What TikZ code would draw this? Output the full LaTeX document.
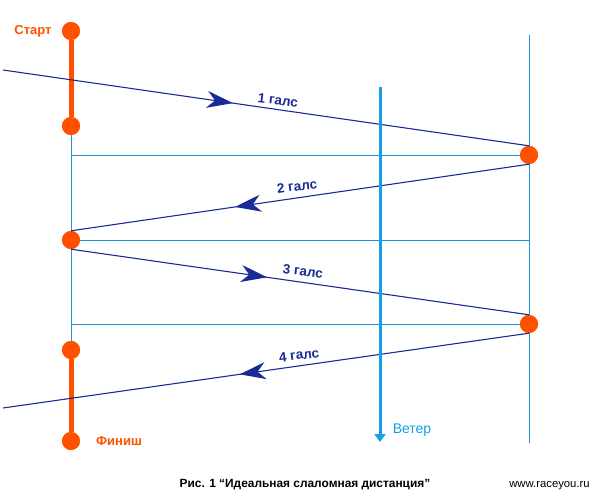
\documentclass[tikz,border=0pt]{standalone}
\usepackage{fontspec}
\setmainfont{Liberation Sans}
\usetikzlibrary{arrows.meta,decorations.markings}
\definecolor{org}{HTML}{FF5000}
\definecolor{navy}{HTML}{1A2A96}
\definecolor{guideblue}{HTML}{2090D8}
\definecolor{wind}{HTML}{12A0E8}
\tikzset{
  buoy/.style={circle,fill=org,draw=none,minimum size=18pt,inner sep=0pt},
  guide/.style={draw=guideblue,line width=0.9pt},
  leg/.style={navy,line width=1.1pt},
  legarrow/.style={postaction={decorate,decoration={markings,
     mark=at position #1 with {\arrow{Stealth[length=26pt,width=17pt,inset=8pt]}}}}},
  leglabel/.style={navy,font=\fontsize{13.5}{15}\selectfont\bfseries},
  orlabel/.style={org,font=\fontsize{13}{15}\selectfont\bfseries},
}
\begin{document}
\begin{tikzpicture}[x=1pt,y=-1pt]
\useasboundingbox (0,0) rectangle (600,500);
% buoys
\node[buoy] (s1) at (71,31) {};
\node[buoy] (s2) at (71,126) {};
\node[buoy] (r1) at (529,155) {};
\node[buoy] (l2) at (71,240) {};
\node[buoy] (r2) at (529,324) {};
\node[buoy] (f1) at (71,350) {};
\node[buoy] (f2) at (71,441) {};
\coordinate (rtop) at (529,35);
\coordinate (rbot) at (529,443);
\coordinate (a0) at (3,70);
\coordinate (a4) at (3,408);
\coordinate (w0) at (380,87);
\coordinate (w1) at (380,442);
\coordinate (h1) at (71,155);
\coordinate (h3) at (71,324);
% thin guide lines
\draw[guide] (rtop) -- (r1) -- (r2) -- (rbot);
\draw[guide] (s2) -- (l2) -- (f1);
\draw[guide] (h1) -- (r1);
\draw[guide] (l2) -- (r1.center |- l2);
\draw[guide] (h3) -- (r2);
% orange gates
\draw[org,line width=5pt] (s1) -- (s2);
\draw[org,line width=5pt] (f1) -- (f2);
\node[buoy] at (s1) {};
\node[buoy] at (s2) {};
\node[buoy] at (f1) {};
\node[buoy] at (f2) {};
\node[buoy] at (l2) {};
\node[buoy] at (r1) {};
\node[buoy] at (r2) {};
% legs
\draw[leg,legarrow=0.437] (a0) -- (r1.north);
\draw[leg,legarrow=0.642] (r1.south) -- (l2.north);
\draw[leg,legarrow=0.428] (l2.south) -- (r2.north);
\draw[leg,legarrow=0.55] (r2.south) -- (a4);
\node[leglabel,rotate=-7] (t1) at (278,100) {1 галс};
\node[leglabel,rotate=7] (t2) at (297,186) {2 галс};
\node[leglabel,rotate=-7] (t3) at (303,271) {3 галс};
\node[leglabel,rotate=7] (t4) at (299,355) {4 галс};
% wind
\draw[wind,line width=3pt,-{Triangle[width=11pt,length=8pt]}] (w0) -- (w1);
\node[wind,font=\fontsize{14}{16}\selectfont] (wt) at (412,430) {Ветер};
% labels
\node[orlabel] (start) at (33,31) {Старт};
\node[orlabel] (fin) at (119,441) {Финиш};
\node[font=\fontsize{11.9}{13}\selectfont\bfseries] (cap) at (305,485) {Рис. 1 “Идеальная слаломная дистанция”};
\node[font=\fontsize{11.3}{13}\selectfont] (url) at (549.5,486) {www.raceyou.ru};
\end{tikzpicture}
\end{document}
